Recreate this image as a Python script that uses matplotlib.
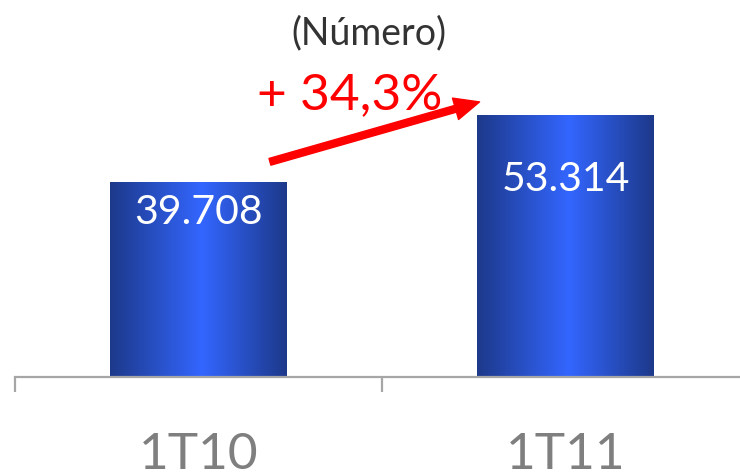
import matplotlib
matplotlib.use("Agg")
import matplotlib.pyplot as plt
import numpy as np
from matplotlib.colors import LinearSegmentedColormap
from matplotlib.patches import FancyArrowPatch

# ---- data ----
categories = ["1T10", "1T11"]
values = [39708, 53314]
value_labels = ["39.708", "53.314"]
growth_label = "+ 34,3%"
subtitle = "(Número)"

# ---- style ----
plt.rcParams["font.family"] = ["Lato", "DejaVu Sans"]
W, H = 740, 477
fig = plt.figure(figsize=(W / 100, H / 100), dpi=100)
ax = fig.add_axes([15 / W, (H - 378) / H, 734 / W, 378 / H])
ax.set_xlim(-0.5, len(categories) - 0.5)
ax.set_ylim(0, 76900)
ax.patch.set_alpha(0)

bar_width = 0.482
cmap = LinearSegmentedColormap.from_list(
    "barg", [(0.0, "#1d398a"), (0.52, "#3366ff"), (1.0, "#1d398a")])
grad = np.linspace(0, 1, 256).reshape(1, -1)

x = np.arange(len(categories))
bars = ax.bar(x, values, width=bar_width, color="none", edgecolor="none", zorder=2)
for b in bars:
    x0, y0 = b.get_x(), b.get_y()
    im = ax.imshow(grad, cmap=cmap, aspect="auto", interpolation="bicubic",
                   extent=(x0, x0 + b.get_width(), y0, y0 + b.get_height()), zorder=2)
    im.set_clip_path(b)

# value labels (pixel offsets below bar top)
label_offsets = [-30, -64]
for xi, v, lab, off in zip(x, values, value_labels, label_offsets):
    ax.annotate(lab, xy=(xi, v), xytext=(0, off), textcoords="offset pixels",
                ha="center", va="center", color="white", fontsize=29.5,
                zorder=3)

# axes styling
for s in ["left", "right", "top"]:
    ax.spines[s].set_visible(False)
ax.spines["bottom"].set_color("#a6a6a6")
ax.spines["bottom"].set_linewidth(1.6)
ax.set_yticks([])
ax.set_xticks(x)
ax.set_xticklabels(categories)
ax.set_xticks(np.arange(-0.5, len(categories)), minor=True)
ax.tick_params(axis="x", which="major", length=0, pad=39, labelsize=37,
               labelcolor="#7f7f7f")
ax.tick_params(axis="x", which="minor", length=11, width=1.6, color="#a6a6a6",
               direction="out")

# subtitle
fig.text(369 / W, 1 - 33 / H, subtitle, ha="center", va="center",
         fontsize=27, color="#333333")

# growth annotation
fig.canvas.draw()
tr = ax.transData
tail = tr.transform((x[0] + bar_width / 2, values[0])) + np.array([-17, 20])
tip = tr.transform((x[1] - bar_width / 2, values[1])) + np.array([2.5, 13])
arrow = FancyArrowPatch(tail, tip, transform=None,
                        arrowstyle="simple,head_length=18,head_width=16,tail_width=5",
                        mutation_scale=1, color="#ff0000", shrinkA=0, shrinkB=0,
                        zorder=5)
fig.add_artist(arrow)
fig.text(350 / W, 1 - 95 / H, growth_label, ha="center", va="center",
         fontsize=37, color="#ff0000", zorder=4)

fig.savefig("out.png", dpi=100)
